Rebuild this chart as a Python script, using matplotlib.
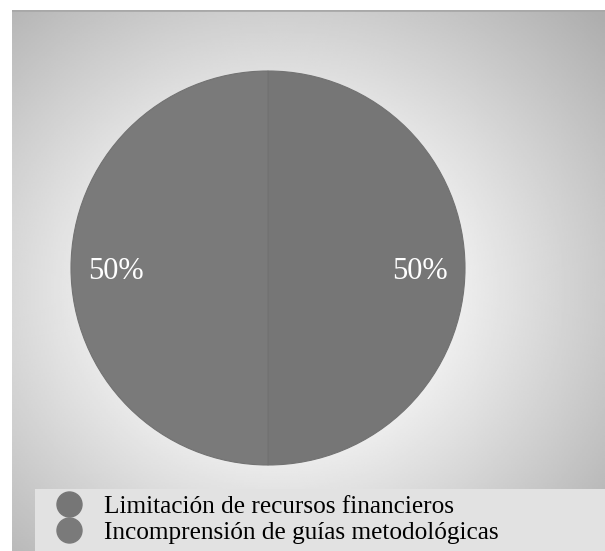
import matplotlib
matplotlib.use('Agg')
import matplotlib.pyplot as plt
from matplotlib.lines import Line2D
import numpy as np

plt.rcParams['font.family'] = ['Liberation Serif', 'DejaVu Serif']

categories = ['Limitación de recursos financieros', 'Incomprensión de guías metodológicas']
values = [50, 50]
colors = ['#767676', '#7a7a7a']

W, H = 605, 551
fig = plt.figure(figsize=(W / 100, H / 100), dpi=100)
fig.patch.set_facecolor('white')

# background panel with radial gradient
bg = fig.add_axes((12 / W, 0, 1 - 12 / W, 1 - 10 / H))
bg.set_zorder(-5)
gx, gy = np.meshgrid(np.linspace(12, W, 300), np.linspace(10, H, 300))
r = np.sqrt(((gx - 280) / 330) ** 2 + ((gy - 290) / 300) ** 2)
shade = np.clip(0.93 - 0.22 * np.clip(r - 0.55, 0, None) / 0.7, 0.68, 0.93)
bg.imshow(shade, cmap='gray', vmin=0, vmax=1, aspect='auto', extent=(0, 1, 0, 1))
bg.axhline(1, color='#a8a8a8', linewidth=2)
bg.axis('off')

# pie
cx, cy, rad = 268, 268, 197
ax = fig.add_axes(((cx - rad) / W, (H - cy - rad) / H, 2 * rad / W, 2 * rad / H))
ax.set_facecolor('none')
wedges, texts, autotexts = ax.pie(values, colors=colors, startangle=90, counterclock=False,
                                  autopct='%1.0f%%', pctdistance=0.77,
                                  wedgeprops=dict(linewidth=0.8, edgecolor='#727272'),
                                  textprops=dict(color='white', fontsize=22))
for t in autotexts:
    t.set_y(t.get_position()[1] - 0.02)
ax.set_xlim(-1, 1)
ax.set_ylim(-1, 1)

# legend box
fig.patches.append(plt.Rectangle((35 / W, 0), 1 - 35 / W, 62 / H, facecolor='#e2e2e2',
                                 edgecolor='none', transform=fig.transFigure, figure=fig, zorder=-1))
handles = [Line2D([], [], marker='o', linestyle='none', markersize=18, color=c) for c in colors]
fig.legend(handles, categories, loc='lower left', bbox_to_anchor=(34 / W, -13 / H), frameon=False,
           fontsize=18.2, handletextpad=0.78, labelspacing=0.12, borderpad=0.3, handlelength=1.2)

fig.savefig('out.png', dpi=100)
